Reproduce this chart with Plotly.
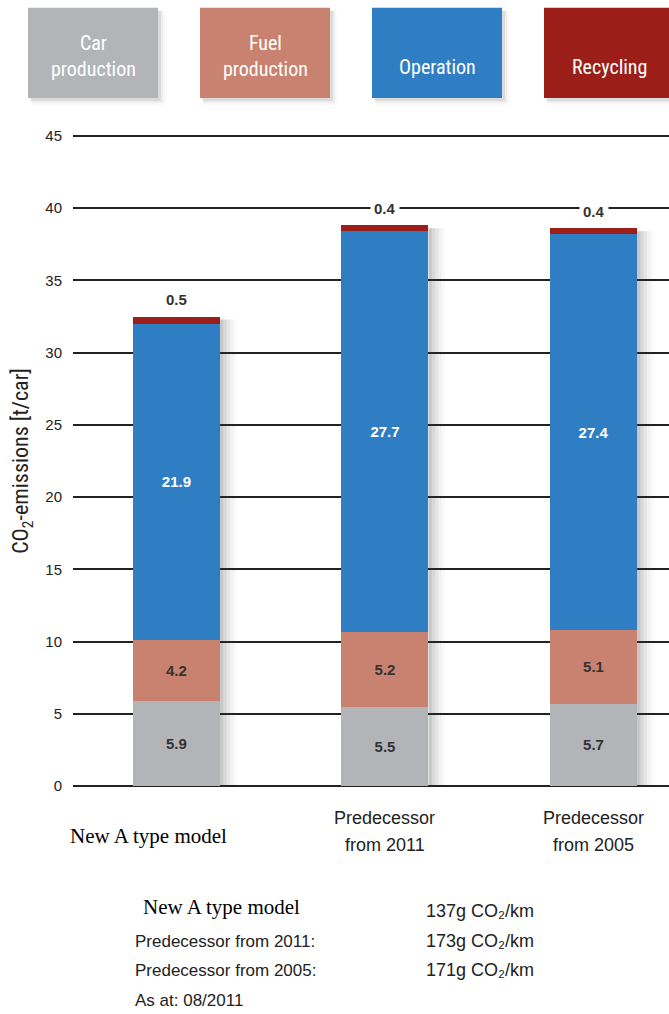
import plotly.graph_objects as go

# Life-cycle CO2 emissions per car, by phase (t/car)
categories = ["New A type model", "Predecessor<br>from 2011", "Predecessor<br>from 2005"]
car_production = [5.9, 5.5, 5.7]
fuel_production = [4.2, 5.2, 5.1]
operation = [21.9, 27.7, 27.4]
recycling = [0.5, 0.4, 0.4]

series_names = ["Car<br>production", "Fuel<br>production", "Operation", "Recycling"]
series_colors = ["#b3b4b8", "#c9826f", "#2f7ec3", "#9b1f18"]
series_values = [car_production, fuel_production, operation, recycling]

tick_values = [0, 5, 10, 15, 20, 25, 30, 35, 40, 45]

fuel_economy_labels = ["New A type model", "Predecessor from 2011:", "Predecessor from 2005:"]
fuel_economy_values = ["137g CO₂/km", "173g CO₂/km", "171g CO₂/km"]
as_at = "As at: 08/2011"

NARROW = "Liberation Sans Narrow, Roboto Condensed, Arial Narrow, sans-serif"
SANS = "Liberation Sans, Arial, sans-serif"
SERIF = "Liberation Serif, Times New Roman, serif"

W, H = 669, 1014
M_L, M_R, M_T, M_B = 73, 0, 133.1, 225.1
PLOT_W = W - M_L - M_R
PLOT_H = H - M_T - M_B


def px_x(px):
    """Figure pixel column -> paper x."""
    return (px - M_L) / PLOT_W


def px_y(py):
    """Figure pixel row -> paper y."""
    return (H - M_B - py) / PLOT_H


BAR_W = 0.417
x_pos = list(range(len(categories)))

fig = go.Figure()

totals = [sum(v[i] for v in series_values) for i in x_pos]

# soft shadow to the right of each column
for i in x_pos:
    for k, op in enumerate([0.10, 0.08, 0.06, 0.04, 0.03]):
        fig.add_shape(
            type="rect", layer="between",
            x0=i + BAR_W / 2, x1=i + BAR_W / 2 + 0.016 * (k + 1),
            y0=0, y1=totals[i] - 0.2,
            fillcolor=f"rgba(60,60,70,{op})", line_width=0,
        )

text_colors = ["#333333", "#333333", "#ffffff", "#333333"]
for idx, (name, color, vals) in enumerate(zip(series_names, series_colors, series_values)):
    is_top = idx == len(series_values) - 1
    fig.add_trace(go.Bar(
        x=x_pos, y=vals, name=name.replace("<br>", " "),
        marker=dict(color=color, line_width=0),
        width=BAR_W,
        text=None if is_top else [f"{v:.1f}" for v in vals],
        textposition="inside", insidetextanchor="middle",
        textfont=dict(family=SANS, size=15, color=text_colors[idx]),
        texttemplate=None if is_top else "<b>%{text}</b>",
        showlegend=False, hoverinfo="skip",
    ))

# values of the recycling segment, written above each column
for i in x_pos:
    fig.add_annotation(
        x=i, y=totals[i], xref="x", yref="y", yshift=17,
        text=f"<b>{recycling[i]:.1f}</b>", showarrow=False,
        font=dict(family=SANS, size=15, color="#333333"),
        bgcolor="white", borderpad=3,
    )

# category labels under the axis
for i, cat in enumerate(categories):
    lines = cat.split("<br>")
    if len(lines) == 1:
        fig.add_annotation(
            x=i, xref="x", y=px_y(836), yref="paper", yanchor="middle", xshift=-28,
            text=lines[0], showarrow=False,
            font=dict(family=SERIF, size=21, color="#000000"),
        )
    else:
        for line, row in zip(lines, [818, 845]):
            fig.add_annotation(
                x=i, xref="x", y=px_y(row), yref="paper", yanchor="middle",
                text=line, showarrow=False,
                font=dict(family=SANS, size=18, color="#222222"),
            )

# legend boxes across the top
box_w, box_h, box_y0 = 130, 90, 8
box_x0s = [28, 200, 372, 544]
for x0, name, color in zip(box_x0s, series_names, series_colors):
    for k, op in enumerate([0.10, 0.06, 0.03]):
        fig.add_shape(type="rect", xref="paper", yref="paper", layer="below",
                      x0=px_x(x0 + 2 + k), x1=px_x(x0 + box_w + 3 + 2 * k),
                      y0=px_y(box_y0 + box_h + 3 + 2 * k), y1=px_y(box_y0 + 3),
                      fillcolor=f"rgba(60,60,70,{op})", line_width=0)
    fig.add_shape(type="rect", xref="paper", yref="paper", layer="above",
                  x0=px_x(x0), x1=px_x(x0 + box_w),
                  y0=px_y(box_y0 + box_h), y1=px_y(box_y0),
                  fillcolor=color, line_width=0)
    # last line of every label sits on the same baseline
    text_mid = 56 if "<br>" in name else 67
    fig.add_annotation(xref="paper", yref="paper",
                       x=px_x(x0 + box_w / 2), y=px_y(text_mid),
                       xanchor="center", yanchor="middle",
                       text=name, showarrow=False, align="center",
                       font=dict(family=NARROW, size=20, color="white"))

# fuel consumption notes below the chart
note_rows = [907, 941, 970]
for row_y, label, value in zip(note_rows, fuel_economy_labels, fuel_economy_values):
    serif = label == fuel_economy_labels[0]
    fig.add_annotation(xref="paper", yref="paper", x=px_x(141 if serif else 133),
                       y=px_y(row_y), xanchor="left", yanchor="middle",
                       text=label, showarrow=False,
                       font=dict(family=SERIF if serif else SANS,
                                 size=21 if serif else 17,
                                 color="#000000" if serif else "#222222"))
    fig.add_annotation(xref="paper", yref="paper", x=px_x(424),
                       y=px_y(row_y + (4 if serif else 0)), xanchor="left", yanchor="middle",
                       text=value, showarrow=False,
                       font=dict(family=SANS, size=18, color="#222222"))
fig.add_annotation(xref="paper", yref="paper", x=px_x(133), y=px_y(1000),
                   xanchor="left", yanchor="middle", text=as_at, showarrow=False,
                   font=dict(family=SANS, size=17, color="#222222"))

fig.update_layout(
    width=W, height=H,
    margin=dict(l=M_L, r=M_R, t=M_T, b=M_B, pad=0),
    paper_bgcolor="white", plot_bgcolor="white",
    barmode="stack", showlegend=False,
    xaxis=dict(range=[-0.496, 2.362], showticklabels=False, showgrid=False,
               zeroline=False, showline=False, fixedrange=True),
    yaxis=dict(range=[-0.2, 45.2], tickvals=tick_values, showgrid=True,
               gridcolor="#222222", gridwidth=1.5, zeroline=False, showline=False,
               ticks="", ticklabelstandoff=10,
               tickfont=dict(family=SANS, size=15, color="#222222"),
               title=dict(text="CO<sub>2</sub>-emissions [t/car]", standoff=10,
                          font=dict(family=NARROW, size=22, color="#222222"))),
)

fig.write_html("out.html")
